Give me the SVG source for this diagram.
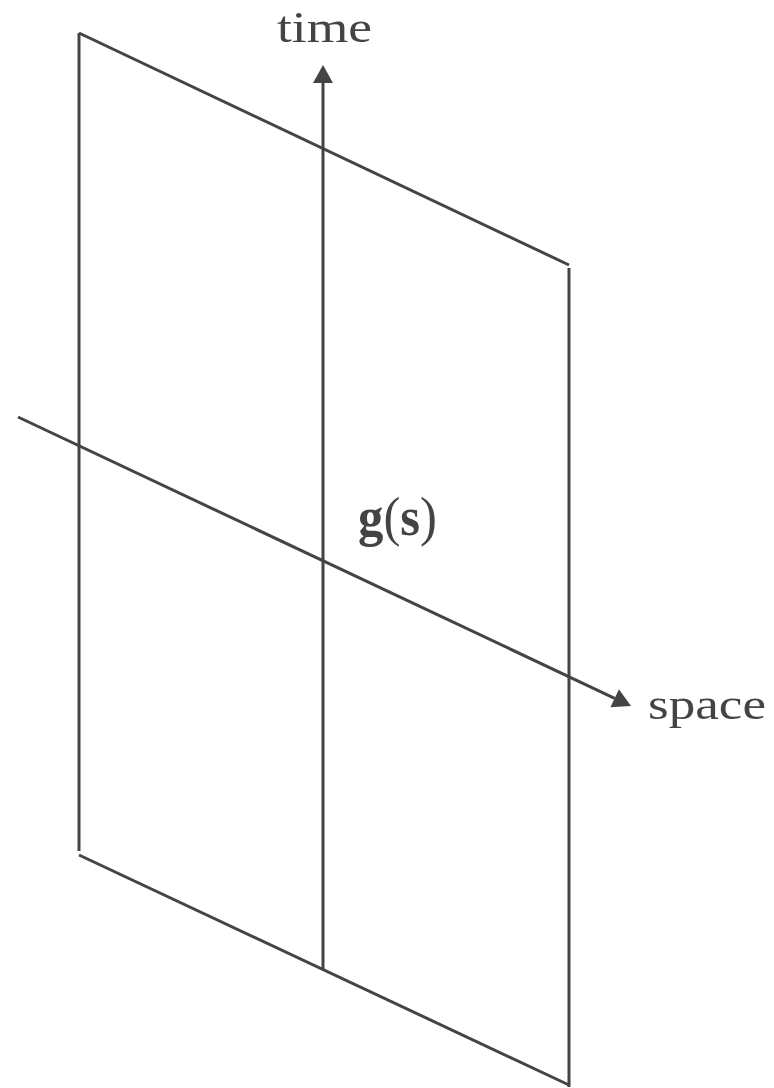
<svg xmlns="http://www.w3.org/2000/svg" width="774" height="1088" viewBox="0 0 774 1088">
  <style>
    .ln { stroke: #444; stroke-width: 3; fill: none; }
    .lbl { font-family: "Liberation Serif", "Times New Roman", serif; fill: #444; font-size: 44px; }
    .math { font-family: "Liberation Serif", "Times New Roman", serif; fill: #444; font-size: 54px; }
  </style>
  <defs>
    <marker id="ah" markerUnits="userSpaceOnUse" markerWidth="20" markerHeight="20" viewBox="0 0 18 20" refX="0" refY="10" orient="auto">
      <path d="M0,0 L18,10 L0,20 Z" fill="#444"/>
    </marker>
  </defs>
  <rect width="774" height="1088" fill="#fff"/>
  <g id="plane">
    <line class="ln" x1="79" y1="33" x2="569" y2="265"/>
    <line class="ln" x1="79" y1="33" x2="79" y2="851"/>
    <line class="ln" x1="569" y1="268" x2="569" y2="1087"/>
    <line class="ln" x1="79" y1="855" x2="569" y2="1085"/>
  </g>
  <g id="connectors">
    <line id="time-axis" class="ln" x1="323" y1="970" x2="323" y2="83" marker-end="url(#ah)"/>
    <line id="space-axis" class="ln" x1="18" y1="417" x2="614.7" y2="698.3" marker-end="url(#ah)"/>
  </g>
  <g id="time-label">
    <text class="lbl" x="277" y="42" textLength="95" lengthAdjust="spacingAndGlyphs">time</text>
  </g>
  <g id="space-label">
    <text class="lbl" x="648" y="719" textLength="118" lengthAdjust="spacingAndGlyphs">space</text>
  </g>
  <g id="gs-label">
    <text class="math" x="358" y="535" textLength="79" lengthAdjust="spacingAndGlyphs"><tspan font-weight="bold">g</tspan>(<tspan font-weight="bold">s</tspan>)</text>
  </g>
</svg>
